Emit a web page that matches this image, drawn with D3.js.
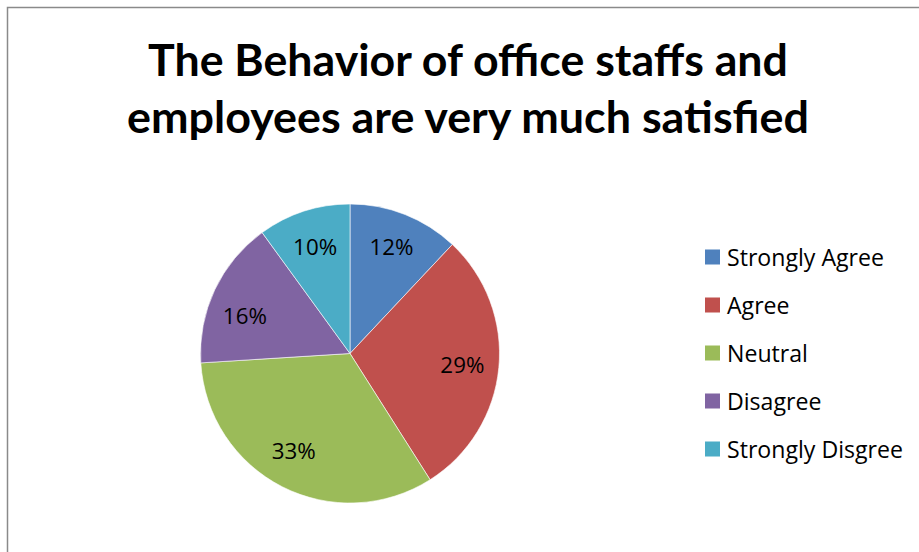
<!DOCTYPE html>
<html>
<head>
<meta charset="utf-8">
<script src="https://cdn.jsdelivr.net/npm/d3@7"></script>
<style>
  html, body { margin: 0; padding: 0; background: #fff; }
  svg { display: block; }
</style>
</head>
<body>
<svg id="chart" width="919" height="552"></svg>
<script>
// Survey responses
const categories = ["Strongly Agree", "Agree", "Neutral", "Disagree", "Strongly Disgree"];
const values = [12, 29, 33, 16, 10];
const colors = ["#4F81BD", "#C0504D", "#9BBB59", "#8064A2", "#4BACC6"];
const titleLines = ["The Behavior of office staffs and", "employees are very much satisfied"];

const TITLE_FONT = "Lato, 'Open Sans', 'Liberation Sans', sans-serif";
const BODY_FONT = "'Open Sans', 'Noto Sans', 'Liberation Sans', sans-serif";
const svg = d3.select("#chart");

// Chart frame
svg.append("rect")
  .attr("x", 7.5).attr("y", 7.5)
  .attr("width", 1000).attr("height", 1000)
  .attr("fill", "#fff")
  .attr("stroke", "#8a8a8a")
  .attr("stroke-width", 1.5);

// Scale a text's font size so that it spans the given width
function fitText(sel, targetWidth) {
  const base = parseFloat(sel.attr("font-size"));
  const w = sel.node().getComputedTextLength();
  const size = w > 0 ? base * targetWidth / w : base;
  sel.attr("font-size", size.toFixed(2));
  return size;
}

// Title
const titleY = [76, 133];
const titleW = [640, 682];
titleLines.forEach((t, i) => {
  const tx = svg.append("text")
    .attr("x", 468).attr("y", titleY[i])
    .attr("text-anchor", "middle")
    .attr("font-family", TITLE_FONT)
    .attr("font-weight", "bold")
    .attr("font-size", 44)
    .attr("fill", "#000")
    .text(t);
  fitText(tx, titleW[i]);
});

// Pie
const cx = 350, cy = 353.5, radius = 149.5;
const pie = d3.pie().sort(null).value(d => d)(values);
const arc = d3.arc().innerRadius(0).outerRadius(radius);
const labelArc = d3.arc().innerRadius(radius * 0.755).outerRadius(radius * 0.755);
// Small per-slice label nudges (best-fit placement inside each wedge)
const labelNudge = [[0, -2], [0, 0], [-5, -4], [-3, 10], [0, 0]];

const g = svg.append("g").attr("transform", `translate(${cx},${cy})`);
g.selectAll("path.slice")
  .data(pie)
  .join("path")
  .attr("class", "slice")
  .attr("d", arc)
  .attr("fill", (d, i) => colors[i])
  .attr("stroke", "#fff")
  .attr("stroke-width", 0.6);

// Percentage labels, sized from a probe string
const probe = svg.append("text")
  .attr("font-family", BODY_FONT).attr("font-size", 20).text("12%");
const labelSize = fitText(probe, 44);
probe.remove();

g.selectAll("text.pct")
  .data(pie)
  .join("text")
  .attr("class", "pct")
  .attr("transform", (d, i) => {
    const [x, y] = labelArc.centroid(d);
    return `translate(${x + labelNudge[i][0]},${y + labelNudge[i][1]})`;
  })
  .attr("text-anchor", "middle")
  .attr("dominant-baseline", "central")
  .attr("font-family", BODY_FONT)
  .attr("font-size", labelSize.toFixed(2))
  .attr("fill", "#000")
  .text(d => d.data + "%");

// Legend
const legend = svg.append("g").attr("transform", "translate(705,257)");
const rowGap = 48;
const legProbe = svg.append("text")
  .attr("font-family", BODY_FONT).attr("font-size", 20).text(categories[0]);
const legendSize = fitText(legProbe, 157);
legProbe.remove();

const items = legend.selectAll("g.item")
  .data(categories)
  .join("g")
  .attr("class", "item")
  .attr("transform", (d, i) => `translate(0,${i * rowGap})`);
items.append("rect")
  .attr("x", 0).attr("y", -7.5)
  .attr("width", 15).attr("height", 15)
  .attr("fill", (d, i) => colors[i]);
items.append("text")
  .attr("x", 22).attr("y", 0)
  .attr("dominant-baseline", "central")
  .attr("font-family", BODY_FONT)
  .attr("font-size", legendSize.toFixed(2))
  .attr("fill", "#000")
  .text(d => d);
</script>
</body>
</html>
